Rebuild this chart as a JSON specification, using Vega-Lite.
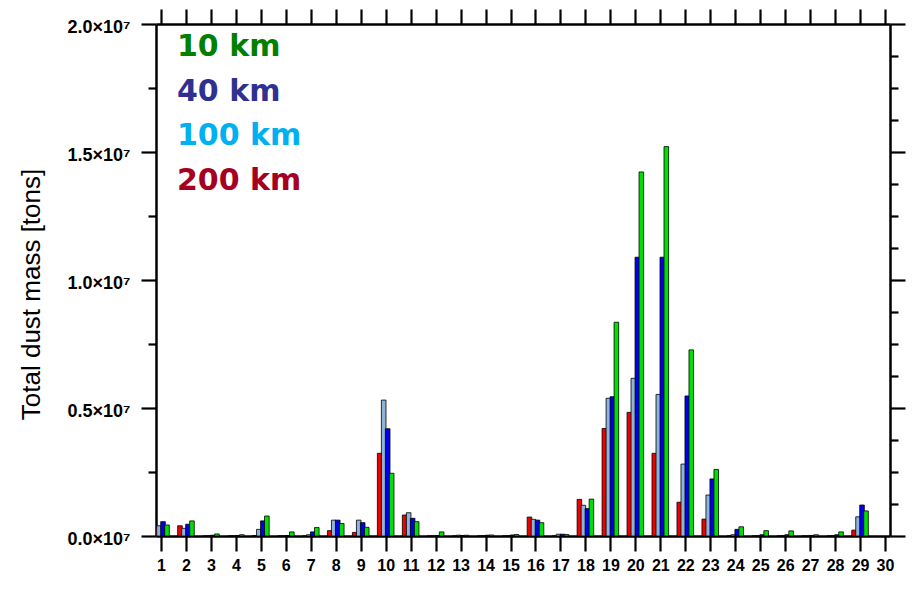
{
  "$schema": "https://vega.github.io/schema/vega-lite/v6.json",
  "width": 734,
  "height": 512,
  "autosize": {"type": "none"},
  "padding": {"left": 156, "top": 24, "right": 22, "bottom": 55},
  "background": "white",
  "config": {
    "view": {"stroke": null},
    "axis": {
      "grid": false,
      "domainColor": "black",
      "domainWidth": 2.5,
      "tickColor": "black",
      "tickWidth": 2.2,
      "labelColor": "black",
      "titleColor": "black",
      "labelFont": "Liberation Sans",
      "titleFont": "Liberation Sans"
    }
  },
  "data": {
    "values": [
      {"day": 1, "r200": 300000, "r100": 400000, "r40": 560000, "r10": 430000},
      {"day": 2, "r200": 400000, "r100": 300000, "r40": 460000, "r10": 590000},
      {"day": 3, "r200": 0, "r100": 20000, "r40": 30000, "r10": 80000},
      {"day": 4, "r200": 0, "r100": 0, "r40": 20000, "r10": 50000},
      {"day": 5, "r200": 20000, "r100": 260000, "r40": 590000, "r10": 780000},
      {"day": 6, "r200": 0, "r100": 0, "r40": 20000, "r10": 160000},
      {"day": 7, "r200": 0, "r100": 50000, "r40": 160000, "r10": 330000},
      {"day": 8, "r200": 210000, "r100": 620000, "r40": 620000, "r10": 490000},
      {"day": 9, "r200": 140000, "r100": 620000, "r40": 520000, "r10": 340000},
      {"day": 10, "r200": 3230000, "r100": 5310000, "r40": 4190000, "r10": 2450000},
      {"day": 11, "r200": 820000, "r100": 910000, "r40": 690000, "r10": 560000},
      {"day": 12, "r200": 0, "r100": 0, "r40": 20000, "r10": 160000},
      {"day": 13, "r200": 0, "r100": 30000, "r40": 20000, "r10": 30000},
      {"day": 14, "r200": 0, "r100": 20000, "r40": 30000, "r10": 40000},
      {"day": 15, "r200": 0, "r100": 20000, "r40": 40000, "r10": 60000},
      {"day": 16, "r200": 740000, "r100": 650000, "r40": 620000, "r10": 520000},
      {"day": 17, "r200": 0, "r100": 70000, "r40": 70000, "r10": 60000},
      {"day": 18, "r200": 1430000, "r100": 1200000, "r40": 1070000, "r10": 1440000},
      {"day": 19, "r200": 4200000, "r100": 5380000, "r40": 5440000, "r10": 8350000},
      {"day": 20, "r200": 4830000, "r100": 6160000, "r40": 10890000, "r10": 14220000},
      {"day": 21, "r200": 3230000, "r100": 5530000, "r40": 10890000, "r10": 15210000},
      {"day": 22, "r200": 1320000, "r100": 2810000, "r40": 5470000, "r10": 7270000},
      {"day": 23, "r200": 660000, "r100": 1600000, "r40": 2230000, "r10": 2600000},
      {"day": 24, "r200": 0, "r100": 50000, "r40": 260000, "r10": 360000},
      {"day": 25, "r200": 0, "r100": 20000, "r40": 50000, "r10": 210000},
      {"day": 26, "r200": 0, "r100": 20000, "r40": 50000, "r10": 200000},
      {"day": 27, "r200": 0, "r100": 0, "r40": 20000, "r10": 50000},
      {"day": 28, "r200": 0, "r100": 20000, "r40": 50000, "r10": 160000},
      {"day": 29, "r200": 230000, "r100": 750000, "r40": 1210000, "r10": 980000}
    ]
  },
  "layer": [
    {
      "encoding": {
        "x": {
          "field": "day",
          "type": "quantitative",
          "scale": {"domain": [1, 30], "nice": false, "zero": false},
          "axis": {
            "orient": "bottom",
            "title": null,
            "values": [1,2,3,4,5,6,7,8,9,10,11,12,13,14,15,16,17,18,19,20,21,22,23,24,25,26,27,28,29,30],
            "tickSize": 15,
            "labelPadding": 6,
            "labelFontSize": 16,
            "labelFontWeight": "bold",
            "labelFlush": false,
            "labelOverlap": false,
            "labelBound": false
          }
        }
      },
      "layer": [
        {
          "mark": {"type": "bar", "size": 4.6, "xOffset": -6, "stroke": "black", "strokeWidth": 0.8, "clip": true},
          "encoding": {
            "y": {
              "field": "r200",
              "type": "quantitative",
              "scale": {"domain": [0, 20000000], "nice": false},
              "axis": {
                "orient": "left",
                "title": "Total dust mass [tons]",
                "titleFontSize": 26,
                "titleFontWeight": "normal",
                "titleAngle": -90,
                "titleBaseline": "alphabetic",
                "titleX": -117,
                "titleY": 270,
                "values": [0, 1250000, 2500000, 3750000, 5000000, 6250000, 7500000, 8750000, 10000000, 11250000, 12500000, 13750000, 15000000, 16250000, 17500000, 18750000, 20000000],
                "tickSize": {"condition": {"test": "datum.value % 5000000 === 0", "value": 15}, "value": 8},
                "labelExpr": "datum.value % 5000000 === 0 ? format(datum.value / 10000000, '.1f') + '×10⁷' : ''",
                "labelFontSize": 18,
                "labelFontWeight": "bold",
                "labelPadding": 11,
                "labelOffset": 3,
                "labelOverlap": false,
                "labelFlush": false,
                "labelBound": false
              }
            },
            "color": {
              "datum": "200 km",
              "type": "nominal",
              "scale": {
                "domain": ["10 km", "40 km", "100 km", "200 km"],
                "range": ["#00e000", "#0000ee", "#8db4d9", "#ee0000"]
              },
              "legend": {
                "title": null,
                "orient": "top-left",
                "offset": 8,
                "padding": 0,
                "symbolSize": 0,
                "symbolOpacity": 0,
                "symbolStrokeWidth": 0,
                "labelFont": "DejaVu Sans",
                "labelFontSize": 30,
                "labelFontWeight": "bold",
                "labelOffset": -17,
                "rowPadding": 14.5,
                "labelLimit": 400,
                "labelColor": {"expr": "datum.label === '10 km' ? '#008000' : datum.label === '40 km' ? '#2e3192' : datum.label === '100 km' ? '#00b0f0' : '#a50021'"}
              }
            }
          }
        },
        {
          "mark": {"type": "bar", "size": 4.6, "xOffset": -2, "stroke": "black", "strokeWidth": 0.8, "clip": true},
          "encoding": {
            "y": {"field": "r100", "type": "quantitative"},
            "color": {"datum": "100 km", "type": "nominal"}
          }
        },
        {
          "mark": {"type": "bar", "size": 4.6, "xOffset": 2, "stroke": "black", "strokeWidth": 0.8, "clip": true},
          "encoding": {
            "y": {"field": "r40", "type": "quantitative"},
            "color": {"datum": "40 km", "type": "nominal"}
          }
        },
        {
          "mark": {"type": "bar", "size": 4.6, "xOffset": 6, "stroke": "black", "strokeWidth": 0.8, "clip": true},
          "encoding": {
            "y": {"field": "r10", "type": "quantitative"},
            "color": {"datum": "10 km", "type": "nominal"}
          }
        }
      ]
    },
    {
      "mark": {"type": "point", "opacity": 0},
      "encoding": {
        "x": {
          "field": "day",
          "type": "quantitative",
          "scale": {"domain": [1, 30], "nice": false, "zero": false},
          "axis": {
            "orient": "top",
            "title": null,
            "labels": false,
            "values": [1,2,3,4,5,6,7,8,9,10,11,12,13,14,15,16,17,18,19,20,21,22,23,24,25,26,27,28,29,30],
            "tickSize": 15
          }
        },
        "y": {
          "field": "r10",
          "type": "quantitative",
          "scale": {"domain": [0, 20000000], "nice": false},
          "axis": {
            "orient": "right",
            "title": null,
            "labels": false,
            "values": [0, 1250000, 2500000, 3750000, 5000000, 6250000, 7500000, 8750000, 10000000, 11250000, 12500000, 13750000, 15000000, 16250000, 17500000, 18750000, 20000000],
            "tickSize": {"condition": {"test": "datum.value % 5000000 === 0", "value": 15}, "value": 8}
          }
        }
      }
    }
  ],
  "resolve": {"axis": {"x": "independent", "y": "independent"}}
}
